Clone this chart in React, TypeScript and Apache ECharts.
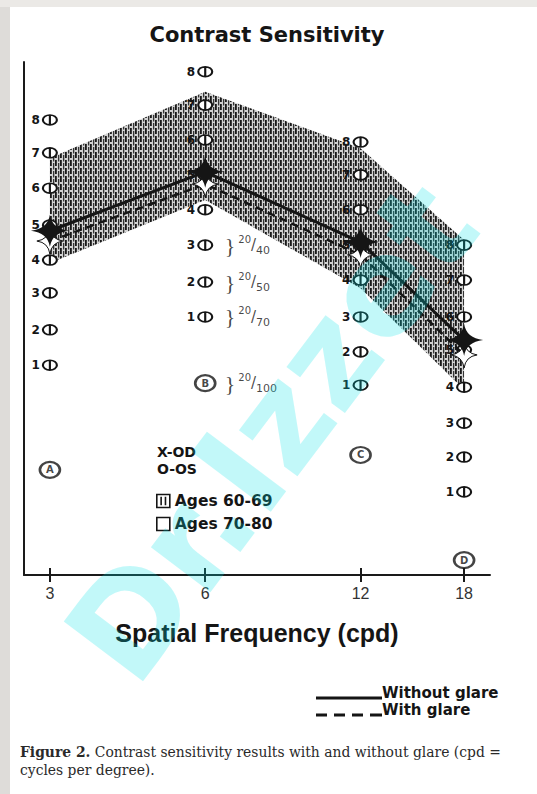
import React, { useEffect, useRef } from 'react';
import * as echarts from 'echarts';

// x axis: tick marks drawn with 3 : 3 : 2 spacing (3, 6, 12, 18 cpd)
const axisSlots = ['3', '', '', '6', '', '', '12', '', '18'];
const frequencies = ['3', '6', '12', '18'];

// mean contrast sensitivity (relative, unlabeled vertical scale 0-100)
const withoutGlare = [67.1, 78.6, 64.9, 45.8];
const withGlare = [65.1, 76.2, 62.4, 42.9];

// normal range band, ages 60-69
const band6069Upper = [81.3, 94.2, 83.2, 65.3];
const band6069Lower = [60.8, 73.1, 55.9, 36.1];

// chart patch rows 1..8 per spatial frequency
const patchLevels = ['1', '2', '3', '4', '5', '6', '7', '8'];
const patches3 = [40.9, 47.8, 55.0, 61.4, 68.2, 75.4, 82.3, 88.7];
const patches6 = [50.3, 57.1, 64.3, 71.2, 78.0, 84.8, 91.6, 98.1];
const patches12 = [37.0, 43.5, 50.3, 57.5, 64.3, 71.2, 78.0, 84.4];
const patches18 = [16.2, 23.0, 29.6, 36.6, 43.9, 50.3, 57.5, 64.3];

const rowLetters = ['A', 'B', 'C', 'D'];
const rowLetterValues = [20.5, 37.4, 23.4, 2.9];

const acuityLabels = ['20/40', '20/50', '20/70', '20/100'];
const acuityValues = [64.3, 57.1, 50.3, 37.4];

const lineNames = ['Without glare', 'With glare'];
const ageNames = ['Ages 60-69', 'Ages 70-80'];
const eyeKey = ['X-OD', 'O-OS'];

const titleText = 'Contrast Sensitivity';
const xTitle = 'Spatial Frequency (cpd)';
const captionBold = 'Figure 2.';
const captionRest = ' Contrast sensitivity results with and without glare (cpd =';
const captionLine2 = 'cycles per degree).';
const watermark = 'Dr.Izzet';

const STAR = 'path://M50,0 Q56,44 100,50 Q56,56 50,100 Q44,56 0,50 Q44,44 50,0 Z';
const PHI = 'path://M0.5,5 A6.5,4.5 0 1 0 13.5,5 A6.5,4.5 0 1 0 0.5,5 Z M7,0 L7,10';
const ELLIPSE = 'path://M0.5,6 A8,5.5 0 1 0 16.5,6 A8,5.5 0 1 0 0.5,6 Z';

const hatchSvg =
  "<svg xmlns='http://www.w3.org/2000/svg' width='5' height='8'>" +
  "<rect width='5' height='8' fill='#d2d2d2'/>" +
  "<rect x='0' y='0' width='1.8' height='6' fill='#181818'/>" +
  "<rect x='3' y='3' width='1.3' height='5' fill='#333'/>" +
  "<rect x='3' y='0' width='1.3' height='1.5' fill='#333'/>" +
  '</svg>';
const hatchUrl = 'data:image/svg+xml;charset=utf-8,' + encodeURIComponent(hatchSvg);

const slot = (f: string) => axisSlots.indexOf(f);

export default function App() {
  const ref = useRef<HTMLDivElement>(null);

  useEffect(() => {
    if (!ref.current) return;
    const chart = echarts.init(ref.current, null, { renderer: 'svg' });
    const hatch: any = { image: hatchUrl, repeat: 'repeat', imageWidth: 5, imageHeight: 8 };

    const patchCols = [patches3, patches6, patches12, patches18];
    const patchData: any[] = [];
    patchCols.forEach((col, ci) => {
      col.forEach((v, li) => {
        patchData.push({ name: patchLevels[li], value: [slot(frequencies[ci]), v] });
      });
    });

    const tickInterval = (_i: number, v: string) => v !== '';

    const option: any = {
      animation: false,
      backgroundColor: '#ffffff',
      title: {
        text: titleText,
        left: 262,
        top: 19,
        textAlign: 'center',
        textStyle: { fontFamily: 'DejaVu Sans', fontWeight: 'bold', fontSize: 21, color: '#151515' },
      },
      grid: { left: 24, right: 47, top: 62, bottom: 219, containLabel: false },
      xAxis: [
        {
          type: 'category',
          data: axisSlots,
          boundaryGap: true,
          axisLine: { show: true, lineStyle: { color: '#1a1a1a', width: 2 } },
          axisTick: { show: true, alignWithLabel: true, interval: tickInterval, length: 7, lineStyle: { color: '#1a1a1a', width: 2 } },
          axisLabel: { interval: 0, margin: 10, fontFamily: 'Liberation Sans', fontSize: 16, color: '#333' },
          splitLine: { show: false },
          name: xTitle,
          nameLocation: 'middle',
          nameGap: 45,
          nameTextStyle: { fontFamily: 'Liberation Sans', fontWeight: 'bold', fontSize: 25, color: '#151515' },
        },
        {
          type: 'category',
          data: axisSlots,
          boundaryGap: true,
          position: 'bottom',
          axisLine: { show: false },
          axisTick: { show: true, inside: true, alignWithLabel: true, interval: tickInterval, length: 7, lineStyle: { color: '#1a1a1a', width: 2 } },
          axisLabel: { show: false },
          splitLine: { show: false },
        },
      ],
      yAxis: {
        type: 'value',
        min: 0,
        max: 100,
        axisLine: { show: true, lineStyle: { color: '#1a1a1a', width: 2 } },
        axisTick: { show: false },
        axisLabel: { show: false },
        splitLine: { show: false },
      },
      legend: [
        {
          orient: 'vertical',
          left: 311,
          top: 680,
          itemWidth: 66,
          itemHeight: 14,
          itemGap: 2,
          selectedMode: false,
          textStyle: { fontFamily: 'DejaVu Sans', fontWeight: 'bold', fontSize: 15, color: '#151515', padding: [0, 0, 0, -5] },
          data: [
            {
              name: lineNames[0],
              icon: 'path://M0,0H0.01V0.01H0Z M0,11H66V14H0Z',
              itemStyle: { color: '#151515', borderWidth: 0 },
            },
            {
              name: lineNames[1],
              icon: 'path://M0,0H0.01V0.01H0Z M0,11H11V14H0Z M18,11H29V14H18Z M36,11H47V14H36Z M54,11H66V14H54Z',
              itemStyle: { color: '#151515', borderWidth: 0 },
            },
          ],
        },
        {
          orient: 'vertical',
          left: 151,
          top: 488,
          itemWidth: 13,
          itemHeight: 13,
          itemGap: 7,
          selectedMode: false,
          textStyle: { fontFamily: 'DejaVu Sans', fontWeight: 'bold', fontSize: 15.5, color: '#151515' },
          data: [
            {
              name: ageNames[0],
              icon: 'path://M0,0H12V12H0Z M4,2L4,10 M8,2L8,10',
              itemStyle: { color: '#fff', borderColor: '#151515', borderWidth: 1.6 },
            },
            {
              name: ageNames[1],
              icon: 'path://M0,0H12V12H0Z',
              itemStyle: { color: '#fff', borderColor: '#151515', borderWidth: 1.6 },
            },
          ],
        },
      ],
      series: [
        {
          type: 'custom',
          name: ageNames[0],
          z: 1,
          silent: true,
          itemStyle: { color: '#fff', borderColor: '#151515' },
          data: frequencies.map((f, i) => [slot(f), band6069Upper[i], band6069Lower[i]]),
          encode: { x: 0, y: [1, 2] },
          renderItem: (params: any, api: any) => {
            if (params.dataIndex !== 0) return null;
            const up = frequencies.map((f, i) => api.coord([slot(f), band6069Upper[i]]));
            const lo = frequencies.map((f, i) => api.coord([slot(f), band6069Lower[i]])).reverse();
            return {
              type: 'polygon',
              shape: { points: up.concat(lo) },
              style: { fill: hatch, stroke: null },
            };
          },
        },
        {
          type: 'custom',
          name: ageNames[1],
          z: 1,
          silent: true,
          itemStyle: { color: '#fff', borderColor: '#151515' },
          data: [],
          renderItem: () => null,
        },
        {
          type: 'scatter',
          name: 'patches',
          z: 3,
          symbol: PHI,
          symbolSize: [14, 11],
          itemStyle: { color: '#fff', borderColor: '#151515', borderWidth: 1.9, opacity: 1 },
          label: {
            show: true,
            position: 'left',
            distance: 2,
            formatter: '{b}',
            fontFamily: 'DejaVu Sans',
            fontWeight: 'bold',
            fontSize: 12,
            color: '#151515',
          },
          data: patchData,
        },
        {
          type: 'scatter',
          name: 'rows',
          z: 3,
          symbol: ELLIPSE,
          symbolSize: [20, 16],
          itemStyle: { color: '#fff', borderColor: '#151515', borderWidth: 2.4 },
          label: {
            show: true,
            position: 'inside',
            formatter: '{b}',
            fontFamily: 'DejaVu Sans',
            fontWeight: 'bold',
            fontSize: 10,
            color: '#151515',
          },
          data: rowLetters.map((l, i) => ({ name: l, value: [slot(frequencies[i]), rowLetterValues[i]] })),
        },
        {
          type: 'scatter',
          name: 'acuity',
          z: 3,
          symbolSize: 1,
          itemStyle: { color: 'rgba(0,0,0,0)' },
          label: {
            show: true,
            position: 'right',
            distance: 19,
            fontFamily: 'Liberation Serif',
            fontSize: 22,
            color: '#151515',
            formatter: (p: any) => {
              const [n, d] = String(p.name).split('/');
              return '}{num|' + n + '}{sl|/}{den|' + d + '}';
            },
            rich: {
              num: { fontFamily: 'DejaVu Sans', fontSize: 10, verticalAlign: 'top', lineHeight: 10, padding: [0, 0, 0, 3] },
              sl: { fontFamily: 'DejaVu Sans', fontSize: 15, verticalAlign: 'middle', lineHeight: 16 },
              den: { fontFamily: 'DejaVu Sans', fontSize: 11, verticalAlign: 'bottom', lineHeight: 11 },
            },
          },
          data: acuityLabels.map((l, i) => ({ name: l, value: [slot(frequencies[1]), acuityValues[i]] })),
        },
        {
          type: 'line',
          name: lineNames[1],
          z: 4,
          data: frequencies.map((f, i) => [slot(f), withGlare[i]]),
          symbol: STAR,
          symbolSize: [26, 26],
          lineStyle: { color: '#151515', width: 2.5, type: [8, 5] },
          itemStyle: { color: '#fff', borderColor: '#151515', borderWidth: 1 },
        },
        {
          type: 'line',
          name: lineNames[0],
          z: 5,
          data: frequencies.map((f, i) => [slot(f), withoutGlare[i]]),
          symbol: STAR,
          symbolSize: [38, 32],
          lineStyle: { color: '#151515', width: 3 },
          itemStyle: { color: '#151515', borderWidth: 0 },
        },
      ],
      graphic: [
        { type: 'rect', z: -1, shape: { x: 0, y: 0, width: 10, height: 794 }, style: { fill: '#dedcd9' } },
        { type: 'rect', z: -1, shape: { x: 0, y: 0, width: 537, height: 7 }, style: { fill: '#ebe9e6' } },
        {
          type: 'text',
          left: 157,
          top: 443,
          style: {
            text: eyeKey.join('\n'),
            fontFamily: 'DejaVu Sans',
            fontWeight: 'bold',
            fontSize: 14,
            lineHeight: 17,
            fill: '#151515',
          },
        },
        {
          type: 'text',
          left: 20,
          top: 743,
          style: {
            text: '{b|' + captionBold + '}' + captionRest + '\n' + captionLine2,
            fontFamily: 'DejaVu Serif',
            fontSize: 13.9,
            lineHeight: 18,
            fill: '#2a2a2a',
            rich: { b: { fontFamily: 'DejaVu Serif', fontWeight: 'bold', fontSize: 13.9, fill: '#2a2a2a' } },
          },
        },
        {
          type: 'text',
          z: 100,
          x: 272,
          y: 432,
          rotation: (53 * Math.PI) / 180,
          silent: true,
          style: {
            text: watermark,
            fontFamily: 'DejaVu Sans',
            fontWeight: 'bold',
            fontSize: 136,
            fill: 'rgba(0, 225, 230, 0.24)',
            align: 'center',
            verticalAlign: 'middle',
          },
        },
      ],
    };

    chart.setOption(option);
    return () => chart.dispose();
  }, []);

  return (
    <div
      ref={ref}
      style={{ position: 'absolute', left: 0, top: 0, width: 537, height: 794, background: '#fff' }}
    />
  );
}
